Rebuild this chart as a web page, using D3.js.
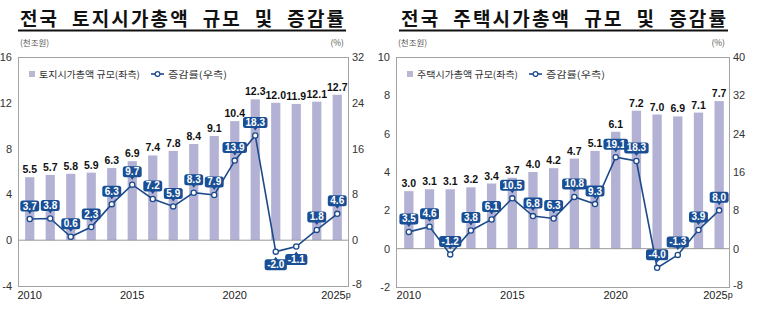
<!DOCTYPE html>
<html>
<head>
<meta charset="utf-8">
<script src="https://cdn.jsdelivr.net/npm/d3@7"></script>
<style>
    body { margin: 0; background: #fff; }
    text { font-family: "Liberation Sans", Arial, sans-serif; }
    .kr { font-family: "Noto Sans CJK KR", "Noto Sans", sans-serif; }
    .narrow { font-family: "Liberation Sans Narrow", "Arial Narrow", "Liberation Sans", sans-serif; }
</style>
</head>
<body>
<script>
//years on the x axis (2025 is provisional)
var years = [2010, 2011, 2012, 2013, 2014, 2015, 2016, 2017, 2018, 2019, 2020, 2021, 2022, 2023, 2024, 2025];
var yearTicks = [2010, 2015, 2020, 2025];

//land: total market value (trillion x1000 won) and change rate (%)
var landValues = [5.5, 5.7, 5.8, 5.9, 6.3, 6.9, 7.4, 7.8, 8.4, 9.1, 10.4, 12.3, 12.0, 11.9, 12.1, 12.7];
var landRates = [3.7, 3.8, 0.6, 2.3, 6.3, 9.7, 7.2, 5.9, 8.3, 7.9, 13.9, 18.3, -2.0, -1.1, 1.8, 4.6];
var landLeftTicks = [-4, 0, 4, 8, 12, 16];
var landRightTicks = [-8, 0, 8, 16, 24, 32];

//housing: total market value and change rate
var houseValues = [3.0, 3.1, 3.1, 3.2, 3.4, 3.7, 4.0, 4.2, 4.7, 5.1, 6.1, 7.2, 7.0, 6.9, 7.1, 7.7];
var houseRates = [3.5, 4.6, -1.2, 3.8, 6.1, 10.5, 6.8, 6.3, 10.8, 9.3, 19.1, 18.3, -4.0, -1.3, 3.9, 8.0];
var houseLeftTicks = [-2, 0, 2, 4, 6, 8, 10];
var houseRightTicks = [-8, 0, 8, 16, 24, 32, 40];

var barColor = "#b3b2d5",
    lineColor = "#1d4a8a",
    boxColor = "#1a4f96",
    frameColor = "#a3a3a3";

var svg = d3.select("body")
    .append("svg")
    .attr("width", 763)
    .attr("height", 310);

drawChart({
    title: ["전국", "토지시가총액", "규모", "및", "증감률"],
    legend: "토지시가총액 규모(좌측)",
    values: landValues,
    rates: landRates,
    leftTicks: landLeftTicks,
    rightTicks: landRightTicks,
    left: 18, right: 348, top: 57, bottom: 286,
    bandRange: [19.5, 347.5],
    negBelow: true,
    titleX: 20, titleEnd: 344
});

drawChart({
    title: ["전국", "주택시가총액", "규모", "및", "증감률"],
    legend: "주택시가총액 규모(좌측)",
    values: houseValues,
    rates: houseRates,
    leftTicks: houseLeftTicks,
    rightTicks: houseRightTicks,
    left: 396, right: 729, top: 57, bottom: 287,
    bandRange: [398.5, 729.5],
    negBelow: false,
    titleX: 401, titleEnd: 726
});

function drawChart(c){
    var g = svg.append("g");

    //scales
    var x = d3.scaleBand()
        .domain(years)
        .range(c.bandRange)
        .paddingInner(0.55)
        .paddingOuter(0.275);

    var yL = d3.scaleLinear()
        .domain(d3.extent(c.leftTicks))
        .range([c.bottom, c.top]);

    var yR = d3.scaleLinear()
        .domain(d3.extent(c.rightTicks))
        .range([c.bottom, c.top]);

    var cx = function(d, i){ return x(years[i]) + x.bandwidth() / 2; };

    //title with underline
    g.append("text")
        .attr("class", "kr")
        .attr("x", c.titleX)
        .attr("y", 26)
        .attr("font-size", 19)
        .attr("font-weight", 700)
        .attr("fill", "#111")
        .text(c.title.join("  "))
        .style("white-space", "pre")
        .attr("textLength", c.titleEnd - c.titleX)
        .attr("lengthAdjust", "spacing");

    g.append("line")
        .attr("x1", c.titleX - 2)
        .attr("x2", c.titleEnd + 2)
        .attr("y1", 30.5)
        .attr("y2", 30.5)
        .attr("stroke", "#111")
        .attr("stroke-width", 2);

    //units
    g.append("text")
        .attr("class", "kr")
        .attr("x", c.left + 2)
        .attr("y", 46)
        .attr("font-size", 8.5)
        .attr("fill", "#555")
        .text("(천조원)");

    g.append("text")
        .attr("class", "kr")
        .attr("x", c.right - 4)
        .attr("y", 46)
        .attr("text-anchor", "end")
        .attr("font-size", 8.5)
        .attr("fill", "#555")
        .text("(%)");

    //bars
    g.selectAll(".bar")
        .data(c.values)
        .enter()
        .append("rect")
        .attr("class", "bar")
        .attr("x", function(d, i){ return x(years[i]); })
        .attr("width", x.bandwidth())
        .attr("y", function(d){ return yL(d); })
        .attr("height", function(d){ return yL(0) - yL(d); })
        .attr("fill", barColor);

    //zero line
    g.append("line")
        .attr("x1", c.left)
        .attr("x2", c.right)
        .attr("y1", yL(0))
        .attr("y2", yL(0))
        .attr("stroke", "#999")
        .attr("stroke-width", 1);

    //frame
    g.append("rect")
        .attr("x", c.left + 0.5)
        .attr("y", c.top + 0.5)
        .attr("width", c.right - c.left)
        .attr("height", c.bottom - c.top)
        .attr("fill", "none")
        .attr("stroke", frameColor)
        .attr("stroke-width", 1);

    //left axis labels
    g.selectAll(".lt")
        .data(c.leftTicks)
        .enter()
        .append("text")
        .attr("x", c.left - 6)
        .attr("y", function(d){ return yL(d) + 4; })
        .attr("text-anchor", "end")
        .attr("font-size", 11)
        .attr("fill", "#333")
        .text(function(d){ return d; });

    //right axis labels
    g.selectAll(".rt")
        .data(c.rightTicks)
        .enter()
        .append("text")
        .attr("x", c.right + 4)
        .attr("y", function(d){ return yR(d) + (d === c.rightTicks[0] ? 2 : 4); })
        .attr("font-size", 11)
        .attr("fill", "#333")
        .text(function(d){ return d; });

    //x axis labels
    var xl = g.selectAll(".xt")
        .data(yearTicks)
        .enter()
        .append("text")
        .attr("x", function(d){ return x(d) + x.bandwidth() / 2; })
        .attr("y", 299)
        .attr("text-anchor", "middle")
        .attr("font-size", 11)
        .attr("fill", "#222")
        .text(function(d){ return d; });

    //provisional year gets a small "p"
    xl.filter(function(d){ return d === 2025; })
        .attr("text-anchor", "start")
        .attr("x", function(d){ return x(d) + x.bandwidth() / 2 - 16; })
        .append("tspan")
        .attr("dy", -1)
        .attr("font-size", 9)
        .text("p");

    //bar value labels
    g.selectAll(".bv")
        .data(c.values)
        .enter()
        .append("text")
        .attr("class", "narrow")
        .attr("x", cx)
        .attr("y", function(d){ return yL(d) - 4; })
        .attr("text-anchor", "middle")
        .attr("font-size", 10.5)
        .attr("font-weight", 700)
        .attr("fill", "#111")
        .text(function(d){ return d.toFixed(1); });

    //rate line
    var line = d3.line()
        .x(cx)
        .y(function(d){ return yR(d); });

    g.append("path")
        .datum(c.rates)
        .attr("d", line)
        .attr("fill", "none")
        .attr("stroke", lineColor)
        .attr("stroke-width", 1.6);

    g.selectAll(".pt")
        .data(c.rates)
        .enter()
        .append("circle")
        .attr("cx", cx)
        .attr("cy", function(d){ return yR(d); })
        .attr("r", 2.6)
        .attr("fill", "#fff")
        .attr("stroke", lineColor)
        .attr("stroke-width", 1.3);

    //rate callout boxes
    var boxes = g.selectAll(".rb")
        .data(c.rates)
        .enter()
        .append("g")
        .attr("transform", function(d, i){
            var below = c.negBelow && d < 0;
            return "translate(" + cx(d, i) + "," + (yR(d) + (below ? 13 : -13)) + ")";
        });

    boxes.append("path")
        .attr("d", function(d){
            return (c.negBelow && d < 0) ? "M-3,-4L0,-8L3,-4Z" : "M-3,4L0,8L3,4Z";
        })
        .attr("fill", boxColor);

    boxes.append("text")
        .attr("class", "narrow")
        .attr("y", 3.5)
        .attr("text-anchor", "middle")
        .attr("font-size", 10)
        .attr("font-weight", 700)
        .attr("fill", "#fff")
        .text(function(d){ return d.toFixed(1); })
        .each(function(){
            var w = this.getComputedTextLength() + 5;
            d3.select(this.parentNode).insert("rect", "text")
                .attr("x", -w / 2)
                .attr("y", -5.5)
                .attr("width", w)
                .attr("height", 11)
                .attr("rx", 2.5)
                .attr("fill", boxColor);
        });

    //legend
    var lg = g.append("g")
        .attr("transform", "translate(" + (c.left + 11) + ",74)");

    lg.append("rect")
        .attr("x", 0)
        .attr("y", -3)
        .attr("width", 6)
        .attr("height", 6)
        .attr("fill", "#b9b8d2");

    lg.append("text")
        .attr("class", "kr")
        .attr("x", 10)
        .attr("y", 3.5)
        .attr("font-size", 9.5)
        .attr("fill", "#333")
        .attr("textLength", 101)
        .attr("lengthAdjust", "spacingAndGlyphs")
        .text(c.legend);

    lg.append("line")
        .attr("x1", 122)
        .attr("x2", 135)
        .attr("y1", 0)
        .attr("y2", 0)
        .attr("stroke", lineColor)
        .attr("stroke-width", 1.6);

    lg.append("circle")
        .attr("cx", 128.5)
        .attr("cy", 0)
        .attr("r", 2.4)
        .attr("fill", "#fff")
        .attr("stroke", lineColor)
        .attr("stroke-width", 1.3);

    lg.append("text")
        .attr("class", "kr")
        .attr("x", 139)
        .attr("y", 3.5)
        .attr("font-size", 9.5)
        .attr("fill", "#333")
        .attr("textLength", 59)
        .attr("lengthAdjust", "spacingAndGlyphs")
        .text("증감률(우측)");
}
</script>
</body>
</html>
